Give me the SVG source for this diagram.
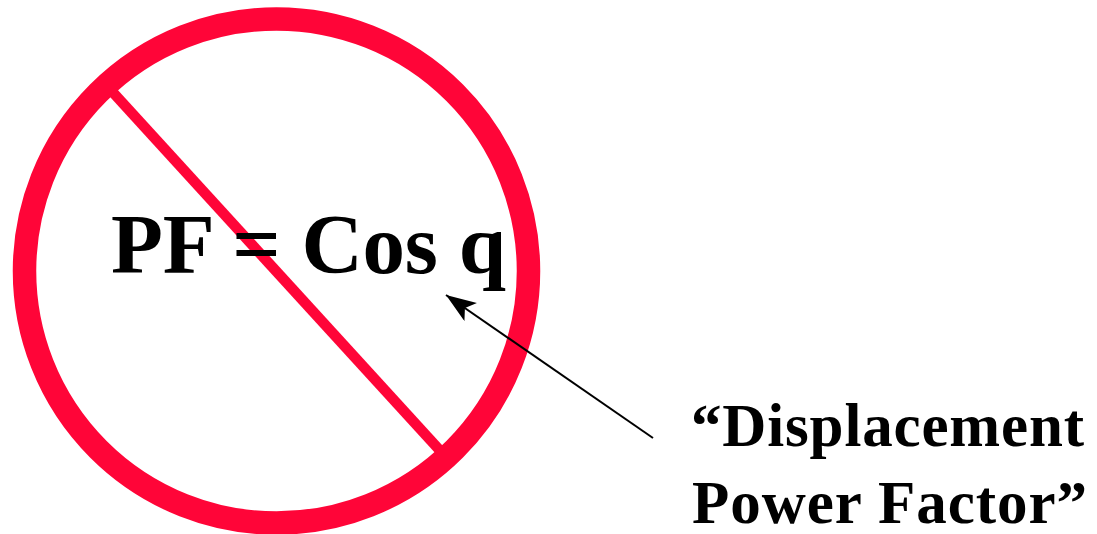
<svg xmlns="http://www.w3.org/2000/svg" width="1097" height="534" viewBox="0 0 1097 534">
<style>
.red{fill:none;stroke:#FF0538}
.t{font-family:"Liberation Serif","Times New Roman",serif;font-weight:bold;fill:#000}
</style>
<defs>
<marker id="ah" markerUnits="userSpaceOnUse" markerWidth="32" markerHeight="24" refX="30" refY="11" orient="auto">
<path d="M0,0 L30,11 L0,22 L7,11 Z" fill="#000"/>
</marker>
</defs>
<rect width="1097" height="534" fill="#fff"/>
<g id="no-sign">
<line class="red" x1="108" y1="87" x2="445" y2="456" stroke-width="10.5"/>
<ellipse class="red" cx="276.5" cy="271" rx="252" ry="252" stroke-width="23.5"/>
</g>
<g id="formula">
<text class="t" x="111" y="273" font-size="85" textLength="395" lengthAdjust="spacing">PF = Cos q</text>
</g>
<g id="label">
<text class="t" x="691" y="446" font-size="61" textLength="393" lengthAdjust="spacing">“Displacement</text>
<text class="t" x="692" y="523" font-size="61" textLength="395" lengthAdjust="spacing">Power Factor”</text>
</g>
<g id="connectors">
<line x1="653" y1="438" x2="446" y2="295" stroke="#000" stroke-width="2" marker-end="url(#ah)"/>
</g>
</svg>
